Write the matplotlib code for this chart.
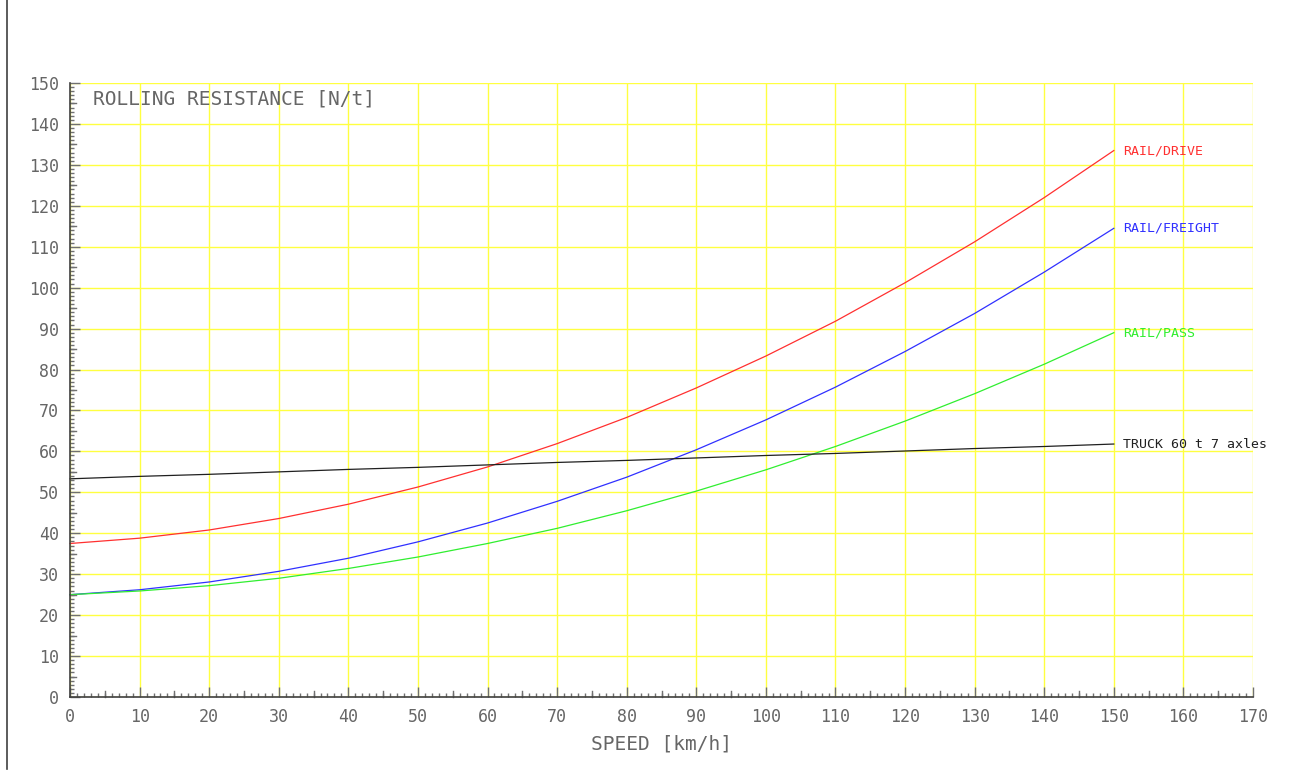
import matplotlib
matplotlib.use("Agg")
import matplotlib.pyplot as plt
from matplotlib.ticker import MultipleLocator
from matplotlib.lines import Line2D

# speed [km/h] and rolling resistance [N/t] for each vehicle
speed = [0, 10, 20, 30, 40, 50, 60, 70, 80, 90, 100, 110, 120, 130, 140, 150]
rail_drive = [37.5, 38.8, 40.8, 43.6, 47.1, 51.3, 56.2, 61.9, 68.3, 75.5,
              83.3, 91.8, 101.2, 111.2, 122.0, 133.5]
rail_freight = [25.0, 26.2, 28.1, 30.7, 33.9, 37.9, 42.5, 47.8, 53.7, 60.4,
                67.7, 75.7, 84.4, 93.7, 103.8, 114.5]
rail_pass = [25.0, 25.9, 27.2, 29.0, 31.4, 34.2, 37.5, 41.2, 45.5, 50.3,
             55.5, 61.2, 67.4, 74.1, 81.3, 89.0]
truck = [53.3, 53.9, 54.4, 55.0, 55.6, 56.1, 56.7, 57.3, 57.8, 58.4,
         59.0, 59.5, 60.1, 60.7, 61.2, 61.8]

series = [
    ("RAIL/DRIVE", rail_drive, "#ff3030"),
    ("RAIL/FREIGHT", rail_freight, "#3030ff"),
    ("RAIL/PASS", rail_pass, "#30ee30"),
    ("TRUCK 60 t 7 axles", truck, "#202020"),
]

txt = "#666666"
fnt = "DejaVu Sans Mono"

fig = plt.figure(figsize=(12.91, 7.71), dpi=100)
ax = fig.add_axes([70 / 1291, 1 - 697 / 771, 1183 / 1291, 614 / 771])

for name, vals, col in series:
    ax.plot(speed, vals, color=col, lw=0.9, clip_on=False)
    ax.text(speed[-1] + 1.3, vals[-1], name, color=col, fontsize=9.5,
            family=fnt, va="center", ha="left", clip_on=False)

ax.set_xlim(0, 170)
ax.set_ylim(0, 150)
ax.xaxis.set_major_locator(MultipleLocator(10))
ax.yaxis.set_major_locator(MultipleLocator(10))
ax.xaxis.set_minor_locator(MultipleLocator(1))
ax.yaxis.set_minor_locator(MultipleLocator(1))
ax.grid(True, which="major", color="#ffff40", lw=1.0)
ax.set_axisbelow(True)

ax.tick_params(which="major", direction="in", length=7, width=1, color="#707070",
               labelsize=12, labelcolor=txt, pad=8)
ax.tick_params(which="minor", direction="in", length=3, width=1, color="#707070")
for lab in ax.get_xticklabels() + ax.get_yticklabels():
    lab.set_family(fnt)

# half-way ticks every 5 units are a bit longer (about 6 px)
xpx = 1183 / 170
ypx = 614 / 150
for v in range(5, 170, 10):
    ax.plot([v, v], [0, 6 / ypx], color="#707070", lw=1, clip_on=False)
for v in range(5, 150, 10):
    ax.plot([0, 6 / xpx], [v, v], color="#707070", lw=1, clip_on=False)

for s in ["top", "right"]:
    ax.spines[s].set_visible(False)
for s in ["left", "bottom"]:
    ax.spines[s].set_color("#404040")
    ax.spines[s].set_linewidth(1.2)

ax.text(3.3, 146, "ROLLING RESISTANCE [N/t]", color=txt, fontsize=14,
        family=fnt, va="center", ha="left")
ax.set_xlabel("SPEED [km/h]", color=txt, fontsize=14, family=fnt, labelpad=6)

# frame line along the left edge of the page
fig.add_artist(Line2D([7 / 1291, 7 / 1291], [0.002, 1.0], color="#404040", lw=1.2))

fig.savefig("out.png", dpi=100)
